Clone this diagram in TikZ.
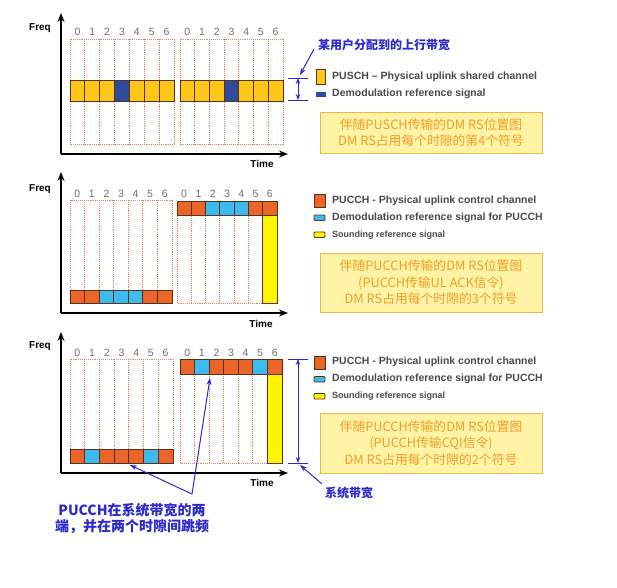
\documentclass[tikz,border=0pt]{standalone}
\usepackage{fontspec}
\setmainfont{Liberation Sans}
\newfontfamily\cjk{Noto Sans CJK SC}
\usetikzlibrary{arrows.meta}
\definecolor{gridc}{HTML}{EE8060}
\definecolor{celld}{HTML}{5A3018}
\definecolor{pusch}{HTML}{FFC61A}
\definecolor{dmrs}{HTML}{2F4B9C}
\definecolor{pucch}{HTML}{EC6528}
\definecolor{cyanrs}{HTML}{3DBBEE}
\definecolor{srs}{HTML}{FFF500}
\definecolor{numc}{HTML}{707070}
\definecolor{legc}{HTML}{4A4A4A}
\definecolor{boxf}{HTML}{FFF3A6}
\definecolor{boxd}{HTML}{F2B845}
\definecolor{boxt}{HTML}{F29E2A}
\definecolor{annc}{HTML}{2A2ACC}
\tikzset{
  gridl/.style={draw=gridc, densely dotted, line width=0.9pt},
  cellb/.style={draw=celld, line width=0.8pt},
  axisl/.style={line width=1.6pt, -{Stealth[length=9pt,width=7pt]}},
  num/.style={text=numc, font=\fontsize{10.5}{11}\selectfont, inner sep=0pt},
  axlab/.style={font=\bfseries\fontsize{10}{11}\selectfont, inner sep=0pt},
  leg/.style={anchor=west, text=legc, inner sep=0pt, font=\bfseries\fontsize{10.5}{12}\selectfont},
  legs/.style={anchor=west, text=legc, inner sep=0pt, font=\bfseries\fontsize{9}{10}\selectfont},
  infobox/.style={draw=boxd, fill=boxf, line width=0.9pt, minimum width=222pt, text=boxt, align=center, inner sep=0pt, font=\cjk\fontsize{12.8}{16.5}\selectfont},
  bluelab/.style={text=annc, inner sep=0pt, align=center, font=\cjk\bfseries\fontsize{12}{13.5}\selectfont},
  bluelabb/.style={text=annc, inner sep=0pt, align=center, font=\cjk\bfseries\fontsize{14}{15.5}\selectfont},
  annl/.style={draw=annc, line width=1pt},
  annarrow/.style={draw=annc, line width=1pt, -{Stealth[length=7pt,width=5pt]}},
  dbl/.style={draw=annc, line width=1pt, {Stealth[length=6pt,width=4.5pt]}-{Stealth[length=6pt,width=4.5pt]}}
}
\newcommand\gridslot[4]{%
  \draw[gridl] (#1,#2) rectangle ({#1+7*#4},#3);
  \foreach \k in {1,...,6}{\draw[gridl] ({#1+\k*#4},#2) -- ({#1+\k*#4},#3);}
}
\newcommand\slotnums[4]{%
  \foreach \k in {0,...,6}{\node[num] (#4n\k) at ({#1+(\k+0.5)*#3},#2) {\k};}
}
\newcommand\cellrow[5]{%
  \foreach \c [count=\k from 0] in {#5}{\draw[cellb, fill=\c] ({#1+\k*#4},#2) rectangle ({#1+(\k+1)*#4},#3);}
}
\begin{document}
\begin{tikzpicture}[x=1pt,y=-1pt]
\useasboundingbox[fill=white] (0,0) rectangle (617,587);

% ---------- top panel ----------
\gridslot{70}{39}{144}{14.86}
\gridslot{180}{39}{144}{14.71}
\slotnums{70}{32}{14.86}{ta}
\slotnums{180}{32}{14.71}{tb}
\cellrow{70}{80}{101}{14.86}{pusch,pusch,pusch,dmrs,pusch,pusch,pusch}
\cellrow{180}{80}{101}{14.71}{pusch,pusch,pusch,dmrs,pusch,pusch,pusch}
\coordinate (o1) at (61,154);
\coordinate (y1) at (61,13);
\coordinate (x1) at (288,154);
\draw[axisl] (o1) -- (y1);
\draw[axisl] (o1) -- (x1);
\node[axlab] (f1) at (40,28) {Freq};
\node[axlab] (t1) at (262,164) {Time};

\coordinate (bw1a) at (298,78);
\coordinate (bw1b) at (298,100);
\draw[annl] (288,78) -- (308,78);
\draw[annl] (288,100) -- (308,100);
\draw[dbl] (bw1a) -- (bw1b);
\node[bluelab] (lab1) at (384,45) {某用户分配到的上行带宽};
\coordinate (p1) at (314,49);
\coordinate (q1) at (300,75);
\draw[annarrow] (p1) -- (q1);

\draw[cellb, fill=pusch] (316,69) rectangle (325,84);
\node[leg] (l1) at (332,77) {PUSCH – Physical uplink shared channel};
\draw[draw=dmrs, fill=dmrs] (316,92) rectangle (325,96);
\node[leg] (l2) at (332,94) {Demodulation reference signal};
\node[infobox, minimum height=41pt] (b1) at (431,132.5) {伴随PUSCH传输的DM RS位置图\\DM RS占用每个时隙的第4个符号};

% ---------- middle panel ----------
\gridslot{70}{200}{303}{14.57}
\gridslot{177}{201}{303}{14.29}
\slotnums{70}{194}{14.57}{ma}
\slotnums{177}{194}{14.29}{mb}
\cellrow{70}{290}{303}{14.57}{pucch,pucch,cyanrs,cyanrs,cyanrs,pucch,pucch}
\cellrow{177}{201}{215}{14.29}{pucch,pucch,cyanrs,cyanrs,cyanrs,pucch,pucch}
\draw[cellb, fill=srs] (262.7,215) rectangle (277,303);
\coordinate (o2) at (61,313);
\coordinate (y2) at (61,172);
\coordinate (x2) at (288,313);
\draw[axisl] (o2) -- (y2);
\draw[axisl] (o2) -- (x2);
\node[axlab] (f2) at (40,189) {Freq};
\node[axlab] (t2) at (261,324) {Time};

\draw[cellb, fill=pucch] (314,194) rectangle (325,207);
\node[leg] (l3) at (332,201) {PUCCH - Physical uplink control channel};
\draw[cellb, fill=cyanrs, rounded corners=1pt] (314,215) rectangle (325,220.5);
\node[leg] (l4) at (332,218) {Demodulation reference signal for PUCCH};
\draw[cellb, fill=srs, rounded corners=1pt] (314,232) rectangle (325,237.5);
\node[legs] (l5) at (332,235) {Sounding reference signal};
\node[infobox, minimum height=59pt] (b2) at (431,282.5) {伴随PUCCH传输的DM RS位置图\\(PUCCH传输UL ACK信令)\\DM RS占用每个时隙的3个符号};

% ---------- bottom panel ----------
\gridslot{70}{359}{463}{14.71}
\gridslot{180}{359}{463}{14.57}
\slotnums{70}{353}{14.71}{ba}
\slotnums{180}{353}{14.57}{bb}
\cellrow{70}{449}{463}{14.71}{pucch,cyanrs,pucch,pucch,pucch,cyanrs,pucch}
\cellrow{180}{359}{374}{14.57}{pucch,cyanrs,pucch,pucch,pucch,cyanrs,pucch}
\draw[cellb, fill=srs] (267.4,374) rectangle (282,463);
\coordinate (o3) at (61,473);
\coordinate (y3) at (61,332);
\coordinate (x3) at (288,473);
\draw[axisl] (o3) -- (y3);
\draw[axisl] (o3) -- (x3);
\node[axlab] (f3) at (40,346) {Freq};
\node[axlab] (t3) at (262,483) {Time};

\draw[cellb, fill=pucch] (314,356) rectangle (325,369);
\node[leg] (l6) at (332,362) {PUCCH - Physical uplink control channel};
\draw[cellb, fill=cyanrs, rounded corners=1pt] (314,376.5) rectangle (325,382);
\node[leg] (l7) at (332,379) {Demodulation reference signal for PUCCH};
\draw[cellb, fill=srs, rounded corners=1pt] (314,393.5) rectangle (325,399);
\node[legs] (l8) at (332,396) {Sounding reference signal};
\node[infobox, minimum height=60pt] (b3) at (431,443) {伴随PUCCH传输的DM RS位置图\\(PUCCH传输CQI信令)\\DM RS占用每个时隙的2个符号};

\coordinate (bw3a) at (298,359);
\coordinate (bw3b) at (298,463);
\draw[annl] (288,359) -- (308,359);
\draw[annl] (288,463) -- (308,463);
\draw[dbl] (bw3a) -- (bw3b);
\node[bluelab] (lab3) at (349,493) {系统带宽};
\coordinate (p3) at (322,484);
\coordinate (q3) at (300,465);
\draw[annarrow] (p3) -- (q3);

\node[bluelabb] (lab4) at (132,518.5) {PUCCH在系统带宽的两\\端，并在两个时隙间跳频};
\coordinate (apex) at (192,494);
\coordinate (tgtA) at (130,465);
\coordinate (tgtB) at (210,378);
\draw[annarrow] (apex) -- (tgtA);
\draw[annarrow] (apex) -- (tgtB);
\end{tikzpicture}
\end{document}
